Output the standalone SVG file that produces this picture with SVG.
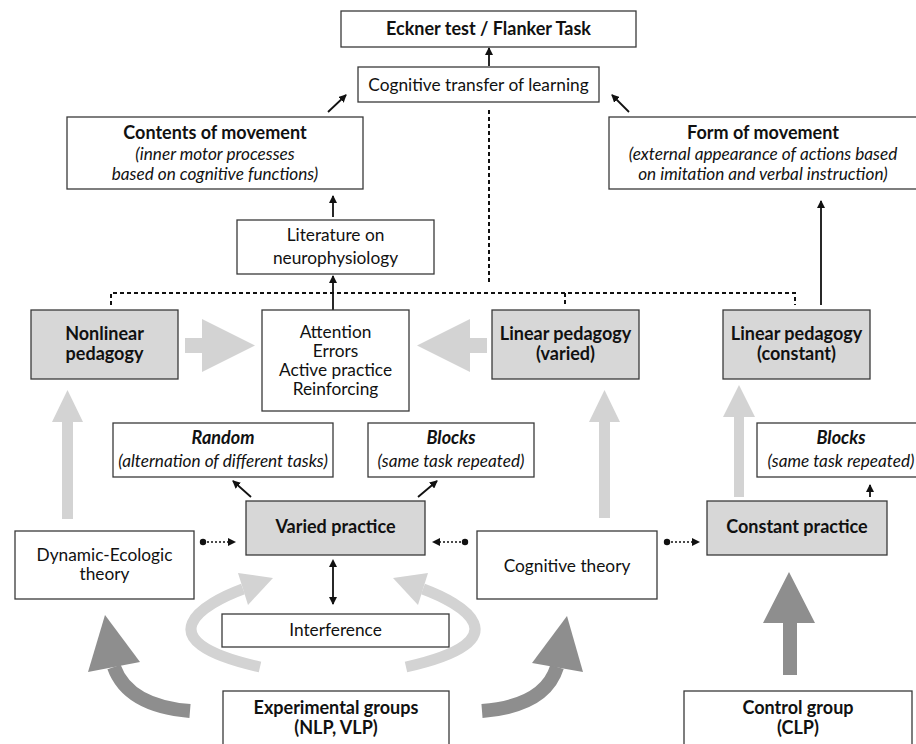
<svg xmlns="http://www.w3.org/2000/svg" width="916" height="744" viewBox="0 0 916 744">
<defs>
<style>
.box{fill:#fff;stroke:#3a3a3a;stroke-width:1.3}
.gbox{fill:#d7d7d7;stroke:#3a3a3a;stroke-width:1.3}
text{font-family:Lato,"Liberation Sans",sans-serif;font-size:17.3px;fill:#111;text-anchor:middle}
.b{font-weight:bold;font-size:18px}
.i{font-style:italic;font-size:17.2px}
.bi{font-weight:bold;font-style:italic;font-size:18px}
.arr{stroke:#111;stroke-width:1.8;fill:none}
.dash{stroke:#111;stroke-width:2;fill:none;stroke-dasharray:4 3}
.dot{stroke:#111;stroke-width:1.6;fill:none;stroke-dasharray:2 2}
.light{fill:#d3d3d3}
.dark{fill:#8e8e8e}
</style>
<marker id="ah" markerWidth="8" markerHeight="8" refX="7" refY="4" orient="auto" markerUnits="userSpaceOnUse">
<path d="M0,0 L8,4 L0,8 Z" fill="#111"/>
</marker>
<marker id="ahs" markerWidth="8" markerHeight="8" refX="1" refY="4" orient="auto-start-reverse" markerUnits="userSpaceOnUse">
<path d="M0,0 L8,4 L0,8 Z" fill="#111"/>
</marker>
<marker id="dotm" markerWidth="8" markerHeight="8" refX="4" refY="4" orient="auto" markerUnits="userSpaceOnUse">
<circle cx="4" cy="4" r="3.2" fill="#111"/>
</marker>
</defs>
<rect width="916" height="744" fill="#fff"/>

<g id="big-arrows">
<polygon class="light" points="185,338 202,338 202,319 255,345.5 202,372 202,353 185,353"/>
<polygon class="light" points="487,338 470,338 470,319 417,345.5 470,372 470,353 487,353"/>
<polygon class="light" points="62,519 62,422 52,422 67.5,390 83,422 73,422 73,519"/>
<polygon class="light" points="599,518 599,422 589,422 604.5,390 620,422 610,422 610,518"/>
<polygon class="light" points="734,497 734,417 723,417 739,385 755,417 744,417 744,497"/>
<path d="M260,667 C140,640 205,603 243,589" stroke="#d3d3d3" stroke-width="11" fill="none"/>
<polygon class="light" points="238,573 273,578 248,605"/>
<path d="M406,667 C526,640 461,603 423,589" stroke="#d3d3d3" stroke-width="11" fill="none"/>
<polygon class="light" points="428,573 393,578 418,605"/>
<path d="M190,711 Q128,706 114,667" stroke="#8e8e8e" stroke-width="14" fill="none"/>
<polygon class="dark" points="88,672 105,615 140,662"/>
<path d="M482,711 Q545,706 557,667" stroke="#8e8e8e" stroke-width="14" fill="none"/>
<polygon class="dark" points="532,663 567,616 583,672"/>
<polygon class="dark" points="783,675 783,623 763,623 789,572 815,623 797,623 797,675"/>
</g>

<g id="connectors">
<line class="arr" x1="489" y1="66" x2="489" y2="48" marker-end="url(#ah)"/>
<line class="arr" x1="328" y1="112" x2="346" y2="95" marker-end="url(#ah)"/>
<line class="arr" x1="629" y1="112" x2="612" y2="95" marker-end="url(#ah)"/>
<line class="arr" x1="333" y1="217" x2="333" y2="196" marker-end="url(#ah)"/>
<line class="arr" x1="333" y1="310" x2="333" y2="276" marker-end="url(#ah)"/>
<line class="arr" x1="821" y1="305" x2="821" y2="201" marker-end="url(#ah)"/>
<line class="arr" x1="251" y1="497" x2="233" y2="481" marker-end="url(#ah)"/>
<line class="arr" x1="418" y1="497" x2="437" y2="481" marker-end="url(#ah)"/>
<line class="arr" x1="870" y1="497" x2="870" y2="485" marker-end="url(#ah)"/>
<line class="arr" x1="333" y1="566" x2="333" y2="604" marker-start="url(#ahs)" marker-end="url(#ah)"/>
<path class="dash" d="M489,110 V283"/>
<path class="dash" d="M111,305 V293 H795 V305"/>
<path class="dash" d="M565,293 V305"/>
<line class="dot" x1="203" y1="542" x2="235" y2="542" marker-start="url(#dotm)" marker-end="url(#ah)"/>
<line class="dot" x1="465" y1="542" x2="433" y2="542" marker-start="url(#dotm)" marker-end="url(#ah)"/>
<line class="dot" x1="667" y1="542" x2="699" y2="542" marker-start="url(#dotm)" marker-end="url(#ah)"/>
</g>

<g id="eckner"><rect class="box" x="341" y="11" width="295" height="36"/><text class="b" x="488.5" y="35">Eckner test / Flanker Task</text></g>
<g id="transfer"><rect class="box" x="358" y="67" width="241" height="35"/><text x="478.5" y="91">Cognitive transfer of learning</text></g>
<g id="contents"><rect class="box" x="67" y="117" width="296" height="72"/><text class="b" x="215" y="139">Contents of movement</text><text class="i" x="215" y="160">(inner motor processes</text><text class="i" x="215" y="179.5">based on cognitive functions)</text></g>
<g id="form"><rect class="box" x="609" y="117" width="320" height="72"/><text class="b" x="763" y="139">Form of movement</text><text class="i" x="763" y="160">(external appearance of actions based</text><text class="i" x="763" y="179.5">on imitation and verbal instruction)</text></g>
<g id="literature"><rect class="box" x="237" y="220" width="197" height="54"/><text x="335.5" y="241">Literature on</text><text x="335.5" y="264">neurophysiology</text></g>
<g id="nonlinear"><rect class="gbox" x="31" y="310" width="147" height="69"/><text class="b" x="104.5" y="340">Nonlinear</text><text class="b" x="104.5" y="360">pedagogy</text></g>
<g id="attention"><rect class="box" x="262" y="310" width="147" height="101"/><text x="335.5" y="338">Attention</text><text x="335.5" y="357">Errors</text><text x="335.5" y="376">Active practice</text><text x="335.5" y="395">Reinforcing</text></g>
<g id="linear-varied"><rect class="gbox" x="492" y="310" width="147" height="69"/><text class="b" x="565.5" y="340">Linear pedagogy</text><text class="b" x="565.5" y="360">(varied)</text></g>
<g id="linear-constant"><rect class="gbox" x="723" y="310" width="147" height="69"/><text class="b" x="796.5" y="340">Linear pedagogy</text><text class="b" x="796.5" y="360">(constant)</text></g>
<g id="random"><rect class="box" x="113" y="423" width="220" height="54"/><text class="bi" x="223" y="444">Random</text><text class="i" x="223" y="467">(alternation of different tasks)</text></g>
<g id="blocks-varied"><rect class="box" x="368" y="423" width="166" height="54"/><text class="bi" x="451" y="444">Blocks</text><text class="i" x="451" y="467">(same task repeated)</text></g>
<g id="blocks-constant"><rect class="box" x="757" y="423" width="170" height="54"/><text class="bi" x="841" y="444">Blocks</text><text class="i" x="841" y="467">(same task repeated)</text></g>
<g id="varied-practice"><rect class="gbox" x="246" y="501" width="179" height="54"/><text class="b" x="335.5" y="533">Varied practice</text></g>
<g id="constant-practice"><rect class="gbox" x="707" y="501" width="180" height="54"/><text class="b" x="797" y="533">Constant practice</text></g>
<g id="dynamic"><rect class="box" x="15" y="531" width="179" height="68"/><text x="104.5" y="561">Dynamic-Ecologic</text><text x="104.5" y="580">theory</text></g>
<g id="cognitive"><rect class="box" x="477" y="531" width="180" height="68"/><text x="567" y="572">Cognitive theory</text></g>
<g id="interference"><rect class="box" x="222" y="614" width="227" height="33"/><text x="335.5" y="636">Interference</text></g>
<g id="experimental"><rect class="box" x="223" y="691" width="226" height="60"/><text class="b" x="336" y="714">Experimental groups</text><text class="b" x="336" y="734">(NLP, VLP)</text></g>
<g id="control"><rect class="box" x="684" y="691" width="228" height="60"/><text class="b" x="798" y="714">Control group</text><text class="b" x="798" y="734">(CLP)</text></g>
</svg>
